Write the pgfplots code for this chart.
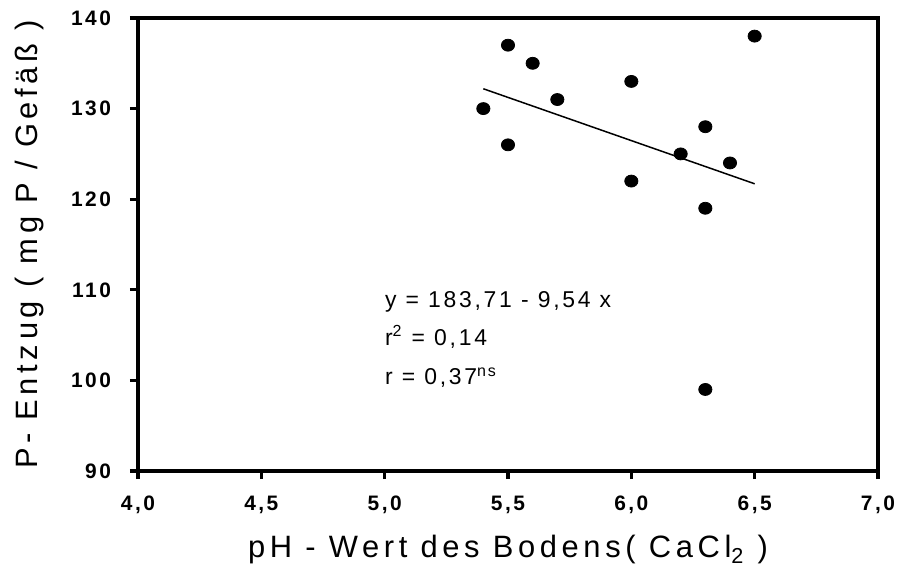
\documentclass[border=0pt]{standalone}
\usepackage{fontspec}
\setmainfont{Liberation Sans}[LetterSpace=12]
\usepackage{pgfplots}
\pgfplotsset{compat=1.18}
\newcommand{\tkfont}{\fontsize{10.5}{12}\selectfont\bfseries}
\begin{document}
\begin{tikzpicture}
\useasboundingbox (-69bp,-50.5bp) rectangle (380bp,235.5bp);
\begin{axis}[
  scale only axis, width=370bp, height=226.5bp,
  xmin=4, xmax=7, ymin=90, ymax=140,
  xtick={4,4.5,5,5.5,6,6.5,7},
  ytick={90,100,110,120,130,140},
  xticklabels={4,0,4,5,5,0,5,5,6,0,6,5,7,0},
  xticklabels={{\tkfont 4,0},{\tkfont 4,5},{\tkfont 5,0},{\tkfont 5,5},{\tkfont 6,0},{\tkfont 6,5},{\tkfont 7,0}},
  yticklabels={{\tkfont 90},{\tkfont 100},{\tkfont 110},{\tkfont 120},{\tkfont 130},{\tkfont 140}},
  tick align=outside, xtick pos=bottom, ytick pos=left,
  major tick length=4bp,
  axis line style={line width=2bp, line cap=rect},
  every tick/.style={line width=1.6bp, black},
  x tick label style={yshift=-5bp},
  y tick label style={xshift=-6bp},
  xlabel={pH - Wert des Bodens( CaCl\textsubscript{2} )},
  ylabel={P- Entzug ( mg P / Gefäß )},
  label style={font=\fontsize{15.5}{18}\selectfont\addfontfeature{LetterSpace=15}},
  xlabel style={at={(axis description cs:0.5,-0.192)}, anchor=base},
  ylabel style={at={(axis description cs:-0.146,0.5)}, anchor=center},
  clip=false,
]
\addplot[only marks, mark=*, mark size=3bp, mark options={xscale=1.1, fill=black, draw=black}] coordinates {
  (5.4,130) (5.5,137) (5.5,126) (5.6,135) (5.7,131) (6.0,133) (6.0,122)
  (6.2,125) (6.3,128) (6.3,119) (6.3,99) (6.4,124) (6.5,138)
};
\addplot[black, line width=0.75bp, no marks] coordinates {(5.4,132.19) (6.5,121.70)};
\node[anchor=base west, font=\fontsize{11.5}{14}\selectfont] at (axis cs:4.973,108.1) {y = 183,71 - 9,54 x};
\node[anchor=base west, font=\fontsize{11.5}{14}\selectfont] at (axis cs:4.973,103.9) {r\textsuperscript{2} = 0,14};
\node[anchor=base west, font=\fontsize{11.5}{14}\selectfont] at (axis cs:4.973,99.5) {r = 0,37\textsuperscript{ns}};
\end{axis}
\end{tikzpicture}
\end{document}
